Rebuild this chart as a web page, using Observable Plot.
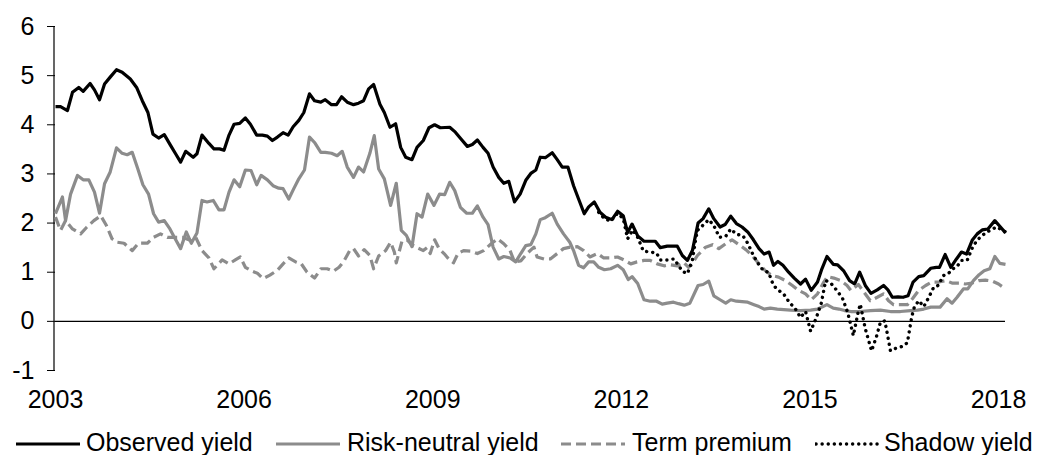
<!DOCTYPE html>
<html>
<head>
<meta charset="utf-8">
<script src="https://cdn.jsdelivr.net/npm/d3@7"></script>
<script src="https://cdn.jsdelivr.net/npm/@observablehq/plot@0.6"></script>
<style>
  html, body { margin: 0; padding: 0; background: #fff; }
  body { font-family: "Liberation Sans", Arial, sans-serif; color: #000; }
  #wrap { position: relative; width: 1039px; height: 455px; overflow: hidden; }
  #legend { position: relative; width: 1039px; height: 25px; }
  .lg-sample { position: absolute; top: 0; width: 66px; height: 25px; }
  .lg-text { position: absolute; top: 0; font-size: 25px; line-height: 24px; white-space: nowrap; }
</style>
</head>
<body>
<div id="wrap">
  <div id="chart"></div>
  <div id="legend"></div>
</div>
<script>
// ---- Data (decimal year, percent) ----
const xTicks = [2003, 2006, 2009, 2012, 2015, 2018];
const yTicks = [-1, 0, 1, 2, 3, 4, 5, 6];
const seriesNames = ["Observed yield", "Risk-neutral yield", "Term premium", "Shadow yield"];

const observed = [
[2003.00,4.37],[2003.08,4.37],[2003.19,4.29],[2003.27,4.66],[2003.37,4.76],[2003.44,4.68],[2003.55,4.84],[2003.62,4.71],[2003.70,4.51],[2003.78,4.83],[2003.87,4.97],[2003.97,5.12],
[2004.06,5.07],[2004.19,4.93],[2004.29,4.76],[2004.38,4.49],[2004.47,4.25],[2004.55,3.81],[2004.64,3.73],[2004.73,3.80],[2004.83,3.58],[2004.91,3.41],[2004.99,3.24],
[2005.07,3.46],[2005.19,3.34],[2005.25,3.41],[2005.33,3.79],[2005.44,3.62],[2005.52,3.51],[2005.61,3.51],[2005.68,3.48],[2005.76,3.79],[2005.84,4.01],[2005.93,4.03],
[2006.02,4.14],[2006.10,4.01],[2006.20,3.79],[2006.29,3.79],[2006.37,3.77],[2006.45,3.68],[2006.53,3.75],[2006.62,3.84],[2006.70,3.79],[2006.78,3.96],[2006.87,4.09],[2006.95,4.25],
[2007.04,4.63],[2007.12,4.49],[2007.22,4.46],[2007.29,4.51],[2007.39,4.41],[2007.47,4.41],[2007.55,4.57],[2007.64,4.46],[2007.74,4.41],[2007.82,4.44],[2007.90,4.49],[2007.98,4.73],
[2008.06,4.82],[2008.16,4.42],[2008.23,4.25],[2008.32,3.95],[2008.41,4.02],[2008.49,3.54],[2008.57,3.34],[2008.67,3.29],[2008.75,3.54],[2008.85,3.68],[2008.94,3.94],
[2009.03,4.00],[2009.12,3.94],[2009.27,3.95],[2009.36,3.85],[2009.45,3.71],[2009.55,3.56],[2009.63,3.60],[2009.71,3.69],[2009.80,3.54],[2009.88,3.42],[2009.96,3.14],
[2010.05,2.93],[2010.13,2.81],[2010.21,2.85],[2010.30,2.43],[2010.39,2.59],[2010.48,2.87],[2010.56,3.01],[2010.64,3.08],[2010.71,3.34],[2010.79,3.33],[2010.90,3.43],[2010.98,3.29],
[2011.06,3.14],[2011.15,3.14],[2011.24,2.76],[2011.32,2.49],[2011.41,2.19],[2011.48,2.33],[2011.57,2.43],[2011.66,2.22],[2011.75,2.12],[2011.85,2.07],[2011.94,2.24],
[2012.03,2.15],[2012.10,1.81],[2012.17,1.98],[2012.26,1.74],[2012.36,1.63],[2012.46,1.63],[2012.54,1.63],[2012.62,1.50],[2012.73,1.53],[2012.89,1.53],[2012.97,1.34],
[2013.05,1.24],[2013.13,1.44],[2013.22,2.00],[2013.30,2.09],[2013.39,2.29],[2013.47,2.09],[2013.57,1.92],[2013.65,1.97],[2013.74,2.14],[2013.83,1.99],[2013.92,1.92],
[2014.01,1.82],[2014.10,1.66],[2014.19,1.48],[2014.27,1.37],[2014.35,1.41],[2014.42,1.14],[2014.49,1.22],[2014.57,1.14],[2014.66,1.00],[2014.75,0.88],[2014.85,0.76],[2014.93,0.86],
[2015.02,0.63],[2015.12,0.80],[2015.19,1.07],[2015.27,1.32],[2015.37,1.16],[2015.44,1.15],[2015.54,1.02],[2015.63,0.83],[2015.71,0.76],[2015.79,1.00],[2015.88,0.73],[2015.97,0.57],
[2016.07,0.64],[2016.17,0.73],[2016.24,0.64],[2016.31,0.49],[2016.40,0.50],[2016.48,0.49],[2016.56,0.52],[2016.64,0.80],[2016.73,0.91],[2016.81,0.93],[2016.92,1.08],
[2017.01,1.10],[2017.06,1.10],[2017.15,1.36],[2017.24,1.10],[2017.33,1.27],[2017.41,1.41],[2017.49,1.37],[2017.58,1.65],[2017.66,1.78],[2017.74,1.86],[2017.83,1.88],[2017.94,2.05],
[2018.03,1.92],[2018.11,1.80]
];

const riskNeutral = [
[2003.00,2.19],[2003.11,2.53],[2003.16,2.05],[2003.24,2.59],[2003.35,2.97],[2003.44,2.88],[2003.53,2.88],[2003.62,2.63],[2003.70,2.20],[2003.78,2.80],[2003.87,3.04],[2003.97,3.53],
[2004.06,3.42],[2004.14,3.39],[2004.22,3.44],[2004.31,3.10],[2004.39,2.78],[2004.48,2.59],[2004.56,2.19],[2004.64,2.02],[2004.73,2.05],[2004.82,1.88],[2004.89,1.71],[2004.99,1.48],
[2005.08,1.82],[2005.16,1.59],[2005.25,1.80],[2005.33,2.46],[2005.41,2.43],[2005.51,2.46],[2005.60,2.27],[2005.68,2.27],[2005.76,2.63],[2005.84,2.88],[2005.93,2.74],
[2006.02,3.08],[2006.11,3.07],[2006.20,2.78],[2006.27,2.97],[2006.37,2.88],[2006.46,2.76],[2006.55,2.71],[2006.62,2.70],[2006.71,2.49],[2006.79,2.70],[2006.87,2.90],[2006.96,3.08],
[2007.04,3.75],[2007.12,3.64],[2007.22,3.44],[2007.29,3.44],[2007.39,3.42],[2007.48,3.37],[2007.56,3.46],[2007.64,3.14],[2007.74,2.93],[2007.82,3.14],[2007.90,3.04],
[2008.00,3.42],[2008.07,3.78],[2008.14,3.10],[2008.23,2.90],[2008.33,2.36],[2008.42,2.81],[2008.50,1.85],[2008.58,1.75],[2008.67,1.52],[2008.75,2.19],[2008.83,2.12],[2008.92,2.59],
[2009.02,2.36],[2009.11,2.59],[2009.19,2.58],[2009.27,2.83],[2009.35,2.66],[2009.44,2.32],[2009.54,2.20],[2009.63,2.20],[2009.71,2.35],[2009.80,2.12],[2009.88,1.97],[2009.96,1.51],
[2010.05,1.27],[2010.13,1.32],[2010.23,1.29],[2010.32,1.21],[2010.40,1.38],[2010.48,1.54],[2010.56,1.56],[2010.64,1.78],[2010.71,2.07],[2010.79,2.11],[2010.90,2.20],[2010.98,1.98],
[2011.08,1.78],[2011.18,1.61],[2011.24,1.44],[2011.32,1.14],[2011.40,1.09],[2011.48,1.21],[2011.56,1.21],[2011.64,1.10],[2011.73,1.05],[2011.83,1.07],[2011.94,1.14],
[2012.03,1.05],[2012.11,0.85],[2012.17,0.91],[2012.26,0.77],[2012.36,0.44],[2012.46,0.41],[2012.56,0.41],[2012.65,0.35],[2012.73,0.37],[2012.83,0.39],[2012.91,0.36],
[2013.00,0.33],[2013.09,0.37],[2013.22,0.73],[2013.30,0.75],[2013.39,0.82],[2013.47,0.52],[2013.57,0.44],[2013.66,0.37],[2013.74,0.44],[2013.83,0.41],
[2014.01,0.39],[2014.11,0.34],[2014.19,0.30],[2014.27,0.25],[2014.37,0.27],[2014.48,0.25],[2014.69,0.23],[2014.85,0.22],
[2015.01,0.23],[2015.12,0.25],[2015.19,0.29],[2015.27,0.34],[2015.37,0.27],[2015.46,0.25],[2015.55,0.22],[2015.65,0.20],[2015.80,0.20],[2015.96,0.22],
[2016.12,0.23],[2016.28,0.20],[2016.44,0.20],[2016.60,0.22],[2016.71,0.23],[2016.81,0.25],[2016.92,0.29],
[2017.07,0.29],[2017.18,0.46],[2017.26,0.37],[2017.34,0.49],[2017.44,0.66],[2017.51,0.66],[2017.60,0.83],[2017.69,0.95],[2017.77,1.03],[2017.86,1.07],[2017.94,1.32],
[2018.02,1.18],[2018.11,1.16]
];

const termPremium = [
[2003.00,2.12],[2003.08,1.85],[2003.16,2.05],[2003.27,1.88],[2003.40,1.78],[2003.50,1.92],[2003.61,2.05],[2003.72,2.15],[2003.81,1.95],[2003.90,1.68],[2003.98,1.61],
[2004.09,1.59],[2004.22,1.44],[2004.32,1.59],[2004.46,1.59],[2004.56,1.71],[2004.67,1.78],[2004.78,1.71],[2004.88,1.71],
[2005.02,1.71],[2005.14,1.65],[2005.23,1.71],[2005.33,1.44],[2005.44,1.29],[2005.52,1.07],[2005.65,1.25],[2005.76,1.17],[2005.86,1.25],[2005.94,1.31],
[2006.02,1.10],[2006.13,1.02],[2006.21,0.98],[2006.30,0.87],[2006.41,0.94],[2006.53,1.04],[2006.62,1.17],[2006.71,1.29],[2006.82,1.21],[2006.91,1.17],
[2007.00,1.00],[2007.12,0.88],[2007.22,1.07],[2007.32,1.07],[2007.42,1.02],[2007.51,1.10],[2007.59,1.23],[2007.68,1.44],[2007.74,1.48],[2007.82,1.33],[2007.91,1.46],
[2008.00,1.34],[2008.06,1.07],[2008.14,1.33],[2008.25,1.44],[2008.33,1.61],[2008.39,1.41],[2008.42,1.19],[2008.51,1.63],[2008.59,1.66],[2008.67,1.56],[2008.75,1.50],[2008.85,1.44],[2008.91,1.50],[2008.96,1.38],
[2009.03,1.66],[2009.10,1.48],[2009.18,1.38],[2009.24,1.29],[2009.33,1.19],[2009.40,1.38],[2009.49,1.44],[2009.60,1.43],[2009.71,1.38],[2009.81,1.44],[2009.93,1.58],
[2010.03,1.68],[2010.13,1.58],[2010.23,1.44],[2010.30,1.21],[2010.40,1.23],[2010.50,1.38],[2010.61,1.51],[2010.66,1.31],[2010.77,1.27],[2010.87,1.27],[2010.98,1.38],
[2011.08,1.48],[2011.19,1.51],[2011.30,1.52],[2011.40,1.44],[2011.50,1.31],[2011.62,1.38],[2011.72,1.29],[2011.83,1.29],[2011.94,1.31],
[2012.04,1.25],[2012.15,1.17],[2012.25,1.21],[2012.36,1.24],[2012.46,1.24],[2012.57,1.17],[2012.68,1.13],[2012.78,1.15],[2012.89,1.13],[2012.99,1.20],
[2013.07,1.10],[2013.11,1.14],[2013.21,1.34],[2013.34,1.51],[2013.45,1.56],[2013.55,1.48],[2013.66,1.58],[2013.76,1.66],[2013.87,1.56],[2013.98,1.46],
[2014.08,1.34],[2014.19,1.17],[2014.29,1.03],[2014.40,0.93],[2014.50,0.90],[2014.61,0.83],[2014.72,0.73],[2014.82,0.63],[2014.93,0.56],
[2015.02,0.44],[2015.12,0.56],[2015.22,0.80],[2015.28,0.91],[2015.38,0.88],[2015.49,0.83],[2015.59,0.73],[2015.65,0.63],[2015.77,0.75],[2015.85,0.61],[2015.96,0.42],
[2016.07,0.49],[2016.17,0.56],[2016.25,0.42],[2016.33,0.34],[2016.44,0.34],[2016.55,0.34],[2016.63,0.46],[2016.73,0.63],[2016.84,0.73],[2016.94,0.80],
[2017.05,0.80],[2017.16,0.83],[2017.26,0.78],[2017.37,0.78],[2017.47,0.76],[2017.58,0.78],[2017.69,0.83],[2017.79,0.84],[2017.90,0.82],
[2018.00,0.76],[2018.11,0.66]
];

const shadowYield = [
[2011.64,2.22],[2011.73,2.09],[2011.83,2.04],[2011.94,2.20],
[2012.03,2.09],[2012.10,1.68],[2012.18,1.86],[2012.26,1.71],[2012.35,1.43],[2012.46,1.41],[2012.56,1.39],[2012.62,1.25],[2012.73,1.25],[2012.84,1.27],[2012.97,1.02],
[2013.05,0.97],[2013.13,1.25],[2013.18,1.65],[2013.21,1.85],[2013.31,1.97],[2013.39,2.07],[2013.47,1.95],[2013.56,1.71],[2013.66,1.73],[2013.74,1.88],[2013.83,1.77],[2013.93,1.75],
[2014.01,1.59],[2014.10,1.34],[2014.18,1.17],[2014.26,1.03],[2014.34,1.00],[2014.42,0.73],[2014.50,0.63],[2014.58,0.56],[2014.67,0.39],[2014.77,0.25],[2014.85,0.08],[2014.93,0.20],
[2015.01,-0.20],[2015.10,0.07],[2015.18,0.37],[2015.25,0.83],[2015.33,0.78],[2015.44,0.61],[2015.52,0.46],[2015.60,0.18],[2015.69,-0.29],[2015.76,0.15],[2015.80,0.35],[2015.88,-0.15],[2015.98,-0.60],
[2016.06,-0.30],[2016.12,-0.02],[2016.19,0.01],[2016.23,-0.25],[2016.28,-0.60],[2016.36,-0.55],[2016.42,-0.53],[2016.49,-0.50],[2016.55,-0.43],[2016.62,0.10],[2016.66,0.29],[2016.73,0.42],[2016.81,0.30],[2016.89,0.49],[2016.97,0.70],
[2017.04,0.73],[2017.12,0.93],[2017.20,0.97],[2017.27,1.07],[2017.33,1.10],[2017.41,1.24],[2017.50,1.24],[2017.59,1.52],[2017.66,1.65],[2017.74,1.75],[2017.82,1.82],[2017.90,1.88],[2017.98,1.92],
[2018.06,1.85],[2018.11,1.82]
];

// ---- Build tables ----
const toRows = (arr) => arr.map(([x, y]) => ({x, y}));

const FONT = "'Liberation Sans', Arial, sans-serif";
const styles = [
  {name: seriesNames[0], data: observed,    stroke: "#000000", strokeWidth: 3.2, dash: null,   cap: "butt"},
  {name: seriesNames[1], data: riskNeutral, stroke: "#8c8c8c", strokeWidth: 3.2, dash: null,   cap: "butt"},
  {name: seriesNames[2], data: termPremium, stroke: "#8c8c8c", strokeWidth: 3.2, dash: "10,5", cap: "butt"},
  {name: seriesNames[3], data: shadowYield, stroke: "#000000", strokeWidth: 3.4, dash: "0.1,6", cap: "round"}
];

const chart = Plot.plot({
  width: 1039,
  height: 430,
  marginLeft: 55,
  marginRight: 34,
  marginTop: 26,
  marginBottom: 60,
  x: {domain: [2003, 2018.11]},
  y: {domain: [-1, 6]},
  style: {fontFamily: FONT, fontSize: "25px", color: "#000", background: "#fff", overflow: "visible"},
  marks: [
    Plot.axisY({ticks: yTicks, tickSize: 8, tickPadding: 13, tickFormat: d => String(d), label: null, fontSize: 25, stroke: "#000", strokeWidth: 1}),
    Plot.axisX({ticks: xTicks, tickSize: 0, tickPadding: 20, tickFormat: d => String(d), label: null, fontSize: 25}),
    Plot.ruleX([2003], {stroke: "#000", strokeWidth: 1.2, dx: -1.5}),
    Plot.ruleY([0], {stroke: "#000", strokeWidth: 1.2}),
    ...styles.map(s => Plot.line(toRows(s.data), {
      x: "x", y: "y",
      stroke: s.stroke,
      strokeWidth: s.strokeWidth,
      strokeDasharray: s.dash,
      strokeLinecap: s.cap,
      strokeLinejoin: "round"
    }))
  ]
});
document.getElementById("chart").appendChild(chart);

// ---- Legend (HTML below the SVG) ----
const legendPos = [
  {sample: 15,  text: 86},
  {sample: 275, text: 347},
  {sample: 560, text: 632},
  {sample: 815, text: 884}
];
const legend = document.getElementById("legend");
styles.forEach((s, i) => {
  const p = legendPos[i];
  const svgNS = "http://www.w3.org/2000/svg";
  const svg = document.createElementNS(svgNS, "svg");
  svg.setAttribute("class", "lg-sample");
  svg.setAttribute("width", 66);
  svg.setAttribute("height", 25);
  svg.style.left = p.sample + "px";
  const line = document.createElementNS(svgNS, "line");
  line.setAttribute("x1", 1); line.setAttribute("x2", 65);
  line.setAttribute("y1", 14); line.setAttribute("y2", 14);
  line.setAttribute("stroke", s.stroke);
  line.setAttribute("stroke-width", s.strokeWidth);
  if (s.dash) line.setAttribute("stroke-dasharray", s.dash);
  line.setAttribute("stroke-linecap", s.cap);
  svg.appendChild(line);
  legend.appendChild(svg);
  const t = document.createElement("span");
  t.className = "lg-text";
  t.style.left = p.text + "px";
  t.textContent = s.name;
  legend.appendChild(t);
});
</script>
</body>
</html>
